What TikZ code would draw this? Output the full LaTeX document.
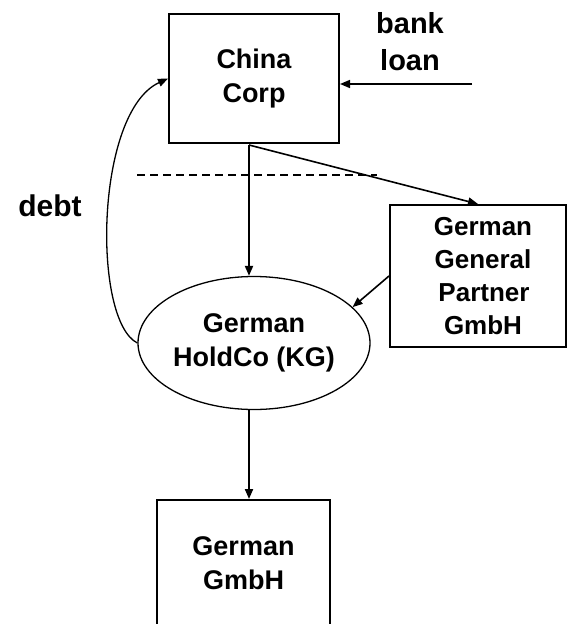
\documentclass[tikz,border=0pt]{standalone}
\usepackage{fontspec}
\setmainfont{Liberation Sans}
\usetikzlibrary{arrows.meta, shapes.geometric}

\begin{document}
\begin{tikzpicture}[x=1pt, y=-1pt,
    every node/.style={align=center, inner sep=0pt, font=\fontsize{27}{34}\selectfont\bfseries},
    entity/.style={rectangle, draw, line width=2pt},
    holding/.style={ellipse, draw, line width=1.3pt},
    flow/.style={line width=2pt, -{Triangle[length=10pt, width=8pt]}},
    note/.style={font=\fontsize{29}{37}\selectfont\bfseries}]
    \useasboundingbox (0,0) rectangle (567,624);
    \node[entity, minimum width=170, minimum height=129] (china) at (254,78.5) {China\\Corp};
    \node[entity, minimum width=176, minimum height=142,
        font=\fontsize{26}{33}\selectfont\bfseries] (partner) at (478,276)
        {\hspace*{10pt}German\\\hspace*{10pt}General\\\hspace*{12pt}Partner\\\hspace*{10pt}GmbH};
    \node[holding, minimum width=232, minimum height=133] (holdco) at (254,343) {German\\HoldCo (KG)};
    \node[entity, minimum width=173, minimum height=126] (gmbh) at (243.5,563) {German\\GmbH};
    \node[note] (bank) at (410,42) {bank\\loan};
    \node[note, font=\fontsize{30}{37}\selectfont\bfseries] (debt) at (50,206) {debt};
    \coordinate (split) at (249,145);
    \coordinate (loan) at (472,84);
    \coordinate (dashL) at (137,175);
    \coordinate (dashR) at (377,175);
    \draw[flow] (split) -- (split |- holdco.north);
    \draw[flow, line width=1.6pt] (split) -- (partner.north);
    \draw[flow, line width=1.6pt] (partner.west) -- (holdco.20);
    \draw[flow] (split |- holdco.south) -- (split |- gmbh.north);
    \draw[flow, line width=1.6pt] (loan) -- (loan -| china.east);
    \draw[flow, line width=1.3pt] (holdco.west) .. controls (92,320) and (95,112) .. (china.west);
    \draw[dashed, line width=1.5pt, dash pattern=on 8pt off 5pt] (dashL) -- (dashR);
\end{tikzpicture}
\end{document}
